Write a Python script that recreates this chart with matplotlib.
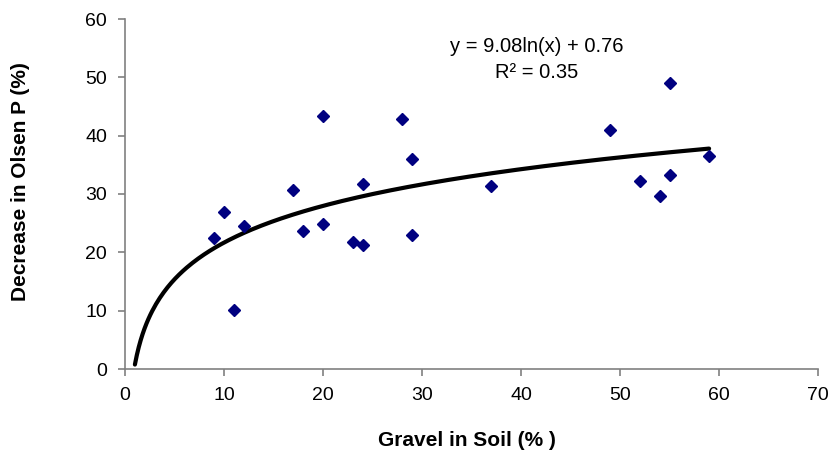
import numpy as np
import matplotlib
matplotlib.use("Agg")
import matplotlib.pyplot as plt

plt.rcParams['font.family'] = ['Liberation Sans', 'DejaVu Sans']

# Data
gravel = [9, 10, 11, 12, 17, 18, 20, 20, 23, 24, 24, 28, 29, 29, 37,
          49, 52, 54, 55, 55, 59]
olsen_decrease = [22.5, 26.9, 10.2, 24.5, 30.7, 23.7, 43.4, 24.9, 21.7, 21.3, 31.8,
                  42.9, 36.0, 22.9, 31.4, 41.0, 32.3, 29.6, 33.3, 49.1, 36.6]

# Logarithmic trendline as labelled on the chart
trend_a = 9.08
trend_b = 0.76
trend_x_range = (1, 59)
equation_text = "y = 9.08ln(x) + 0.76"
r2_text = "R² = 0.35"

x_ticks = [0, 10, 20, 30, 40, 50, 60, 70]
y_ticks = [0, 10, 20, 30, 40, 50, 60]

fig = plt.figure(figsize=(8.34, 4.55), dpi=100)
ax = fig.add_axes([125/834, 1 - 369/455, (818-125)/834, (369-19)/455])

tx = np.linspace(trend_x_range[0], trend_x_range[1], 300)
ty = trend_a * np.log(tx) + trend_b
ax.plot(tx, ty, color='black', lw=3.0, solid_capstyle='round', zorder=2)

ax.plot(gravel, olsen_decrease, linestyle='none', marker='D', markersize=6.5,
        color='#000080', markeredgecolor='#000080', zorder=3)

ax.set_xlim(0, 70)
ax.set_ylim(0, 60)
ax.set_xticks(x_ticks)
ax.set_yticks(y_ticks)

for s in ['top', 'right']:
    ax.spines[s].set_visible(False)
for s in ['left', 'bottom']:
    ax.spines[s].set_color('#808080')
    ax.spines[s].set_linewidth(1.2)

ax.tick_params(axis='both', direction='out', length=5, width=1.2, color='#808080',
               labelsize=14, labelcolor='black')
ax.tick_params(axis='x', pad=8)
ax.tick_params(axis='y', pad=8)

ax.set_xlabel('Gravel in Soil (% )', fontsize=15, fontweight='bold')
ax.set_ylabel('Decrease in Olsen P (%)', fontsize=15, fontweight='bold')
ax.xaxis.set_label_coords((467 - 125) / 693, (369 - 441) / 350)
ax.yaxis.set_label_coords((21 - 125) / 693, (369 - 182) / 350)
ax.xaxis.label.set_va('center')
ax.yaxis.label.set_va('center')

ax.text(41.6, 55.2, equation_text, ha='center', va='center', fontsize=14.5)
ax.text(41.6, 50.9, r2_text, ha='center', va='center', fontsize=14.5)

fig.savefig('out.png', dpi=100)
